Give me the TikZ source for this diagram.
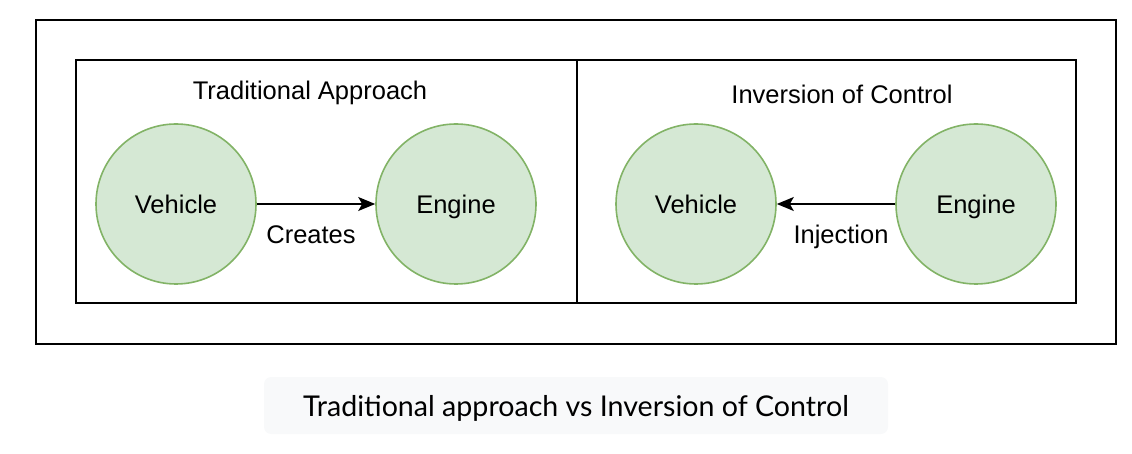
\documentclass[tikz,border=0pt]{standalone}
\usepackage{fontspec}
\setmainfont{Liberation Sans}
\newfontfamily\capfont{Lato}
\usetikzlibrary{arrows.meta}
\definecolor{gfill}{HTML}{D5E8D4}
\definecolor{gline}{HTML}{82B366}
\definecolor{capbg}{HTML}{F8F9FA}
\begin{document}
\begin{tikzpicture}[x=1pt,y=-1pt,
  frame/.style={draw=black,line width=2pt},
  ball/.style={circle,draw=gline,fill=gfill,line width=1.6pt,minimum size=160pt,inner sep=0pt,font=\fontsize{25.5}{30}\selectfont,text height=18.3pt,text depth=0pt},
  lbl/.style={font=\fontsize{25.5}{30}\selectfont,inner sep=0pt,text height=18.3pt,text depth=0pt},
  conn/.style={-{Stealth[length=17pt,width=14pt,inset=4pt]},line width=1.6pt}
]
\useasboundingbox (0,0) rectangle (1132,454);
\draw[frame] (36,20) rectangle (1116,344);
\draw[frame] (76,60) rectangle (577,303);
\draw[frame] (577,60) rectangle (1076,303);
\node[lbl] (t1) at (310,90) {Traditional Approach};
\node[lbl] (t2) at (842,94) {Inversion of Control};
\node[ball] (v1) at (176,204) {Vehicle};
\node[ball] (e1) at (456,204) {Engine};
\node[ball] (v2) at (696,204) {Vehicle};
\node[ball] (e2) at (976,204) {Engine};
\draw[conn] (v1) -- (e1);
\draw[conn] (e2) -- (v2);
\node[lbl] (c1) at (311,234) {Creates};
\node[lbl] (c2) at (841,234) {Injection};
\node[draw=none,fill=capbg,rounded corners=7pt,minimum width=624pt,minimum height=57pt] (capbox) at (576,405.5) {};
\node[inner sep=0pt,font=\capfont\fontsize{28.6}{32}\selectfont,text height=20.5pt,text depth=0pt] (cap) at (576,406) {Traditional approach vs Inversion of Control};
\end{tikzpicture}
\end{document}
